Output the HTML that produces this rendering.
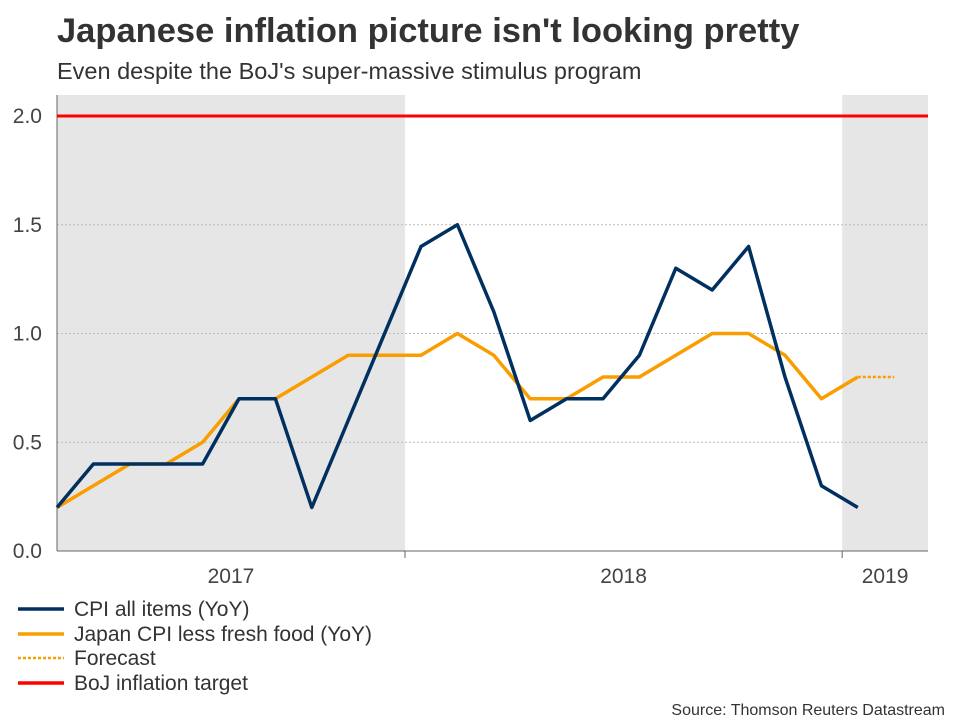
<!DOCTYPE html>
<html><head><meta charset="utf-8"><style>
body{margin:0;background:#fff;font-family:"Liberation Sans",Arial,sans-serif;}
</style></head><body>
<svg width="960" height="720" viewBox="0 0 960 720" font-family="Liberation Sans, Arial, sans-serif">
<text x="57" y="42" font-size="34.5" font-weight="bold" fill="#333">Japanese inflation picture isn't looking pretty</text>
<text x="57" y="79" font-size="23.5" fill="#333">Even despite the BoJ's super-massive stimulus program</text>
<g id="plot"></g>
<g>
<line x1="18" y1="609" x2="64" y2="609" stroke="#00305f" stroke-width="3.5"/>
<text x="74" y="616" font-size="21" fill="#333">CPI all items (YoY)</text>
<line x1="18" y1="634" x2="64" y2="634" stroke="#f99d00" stroke-width="3.5"/>
<text x="74" y="641" font-size="21" fill="#333">Japan CPI less fresh food (YoY)</text>
<line x1="18" y1="658" x2="64" y2="658" stroke="#f99d00" stroke-width="2.5" stroke-dasharray="3,2"/>
<text x="74" y="665" font-size="21" fill="#333">Forecast</text>
<line x1="18" y1="683" x2="64" y2="683" stroke="#f00" stroke-width="3.5"/>
<text x="74" y="690" font-size="21" fill="#333">BoJ inflation target</text>
</g>
<text x="945" y="715" font-size="16" fill="#333" text-anchor="end">Source: Thomson Reuters Datastream</text>
</svg>
<script>
const cpi=[0.2,0.4,0.4,0.4,0.4,0.7,0.7,0.2,0.6,1.0,1.4,1.5,1.1,0.6,0.7,0.7,0.9,1.3,1.2,1.4,0.8,0.3,0.2];
const core=[0.2,0.3,0.4,0.4,0.5,0.7,0.7,0.8,0.9,0.9,0.9,1.0,0.9,0.7,0.7,0.8,0.8,0.9,1.0,1.0,0.9,0.7,0.8];
const forecast=[0.8,0.8];
const forecastStart=22;
const target=2.0;
const yTicks=[0,0.5,1.0,1.5,2.0];
const years=["2017","2018","2019"];
const yearStarts=[-3,9.56,21.57,34];
const X0=57,X1=928,DX=36.4;
const x=i=>X0+i*DX;
const y=v=>551-v*217.5;
const NS="http://www.w3.org/2000/svg";
const g=document.getElementById('plot');
function mk(t,a){const e=document.createElementNS(NS,t);for(const k in a)e.setAttribute(k,a[k]);g.appendChild(e);return e;}
[0,2].forEach(k=>{const a=Math.max(X0,x(yearStarts[k])),b=Math.min(X1,x(yearStarts[k+1]));
const r=mk('rect',{x:a,y:95,width:b-a,height:456,fill:'#e6e6e6'});

});
yTicks.forEach(v=>{
if(v>0&&v<2){const l=mk('line',{x1:X0,x2:X1,y1:y(v),y2:y(v),stroke:'#bbb','stroke-dasharray':'2,2'});

}
const t=mk('text',{x:42,y:y(v)+7,'font-size':21,fill:'#444','text-anchor':'end'});t.textContent=v.toFixed(1);

});
mk('line',{x1:X0,x2:X0,y1:95,y2:551,stroke:'#666'});
mk('line',{x1:X0,x2:X1,y1:551,y2:551,stroke:'#666'});
years.forEach((yr,k)=>{const a=Math.max(X0,x(yearStarts[k])),b=Math.min(X1,x(yearStarts[k+1]));
const t=mk('text',{x:(a+b)/2,y:583,'font-size':21,fill:'#444','text-anchor':'middle'});t.textContent=yr;


if(k>0){const tk=mk('line',{x1:a,x2:a,y1:551,y2:558,stroke:'#666'});

}});
const tl=mk('line',{x1:X0,x2:X1,y1:y(target),y2:y(target),stroke:'#f00','stroke-width':3});


function line(arr,off,col,name,dash){const p=mk('polyline',{points:arr.map((v,i)=>x(i+off)+','+y(v)).join(' '),fill:'none',stroke:col,'stroke-width':dash?2.5:3.5,'stroke-linejoin':'round'});
if(dash)p.setAttribute('stroke-dasharray','3,2');

}
line(core,0,'#f99d00','core-cpi-line');
line(forecast,forecastStart,'#f99d00','forecast-line',true);
line(cpi,0,'#00305f','cpi-line');
</script>
</body></html>
